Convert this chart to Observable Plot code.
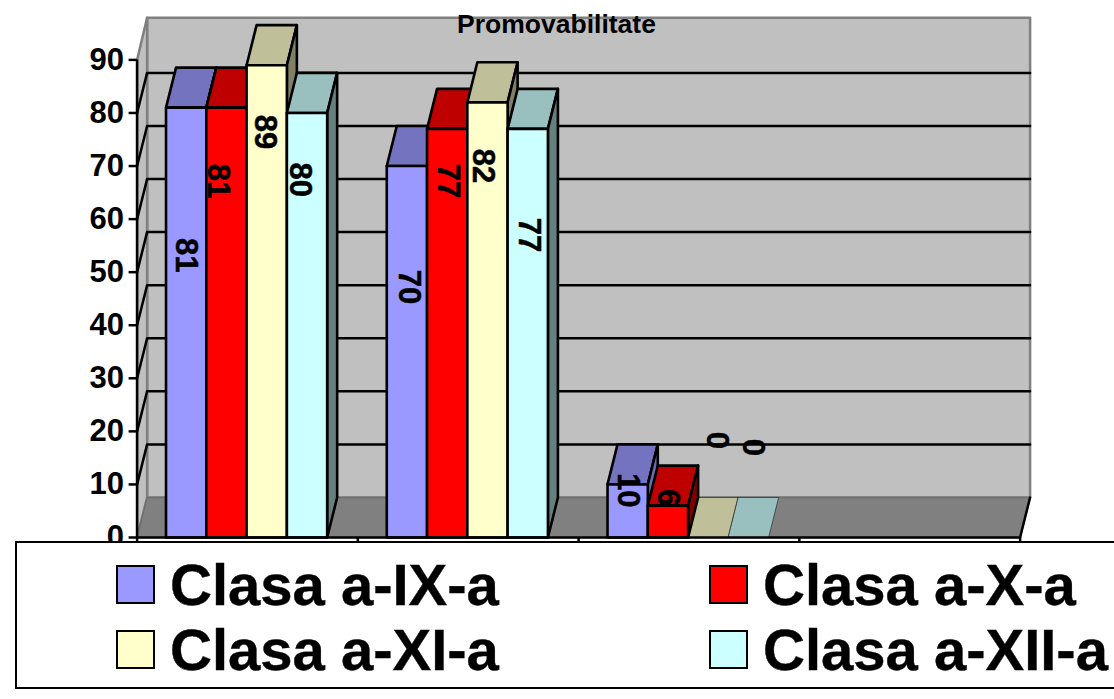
<!DOCTYPE html>
<html><head><meta charset="utf-8">
<script src="https://cdn.jsdelivr.net/npm/d3@7"></script>
<script src="https://cdn.jsdelivr.net/npm/@observablehq/plot@0.6"></script>
<style>
html,body{margin:0;padding:0;background:#fff;font-family:"Liberation Sans",Arial,sans-serif;overflow:hidden}
#legend{position:absolute;left:15px;top:541px;width:1110px;height:144px;border:2.5px solid #000;background:#fff;font-weight:bold;box-sizing:content-box}
#legend .sw{position:absolute;width:35px;height:35px;border:2.5px solid #000}
#legend .tx{position:absolute;font-size:58px;line-height:60px;color:#000;white-space:nowrap;-webkit-text-stroke:0.4px #000}
</style></head><body>
<div id="chart"></div>
<div id="legend"></div>
<script>
const seriesNames = ["Clasa a-IX-a","Clasa a-X-a","Clasa a-XI-a","Clasa a-XII-a"];
const clasaIX  = [81,70,10];
const clasaX   = [81,77,6];
const clasaXI  = [89,82,0];
const clasaXII = [80,77,0];
const frontColors = ["#9999FF","#FF0000","#FFFFCC","#CCFFFF"];
const topColors   = ["#7373BF","#BF0000","#BFBF99","#99BFBF"];
const sideColors  = ["#6B6BB0","#800000","#808066","#668080"];
const yTicks = [0,10,20,30,40,50,60,70,80,90];
const categorySlots = [0,1,2,3,4];
// Label anchor points, read in axis units
const labelSpots = [
  [[0.222,53.2],[1.232,47.2],[2.224,8.9]],
  [[0.367,67.2],[1.409,67.2],[2.405,7.5]],
  [[0.58,76.4],[1.567,70],[2.627,18.3]],
  [[0.738,67.4],[1.776,57],[2.79,17]]
];
const values = [clasaIX,clasaX,clasaXI,clasaXII];

const depthX = 10/220.75, depthY = 40/5.3;
const gap = 0.131, barW = 0.1825;
const topY = 90 + depthY + 0.4;
const poly = (rows,id,fill,pts) => pts.forEach(([x,y]) => rows.push({id,fill,x,y}));

const wall = [], floor = [], outlined = [], bare = [];
poly(wall,"back","#C0C0C0",[[depthX,depthY],[4+depthX,depthY],[4+depthX,topY],[depthX,topY]]);
poly(wall,"left","#C0C0C0",[[0,0],[depthX,depthY],[depthX,topY],[0,90]]);
poly(floor,"floor","#808080",[[0,0],[4,0],[4+depthX,depthY],[depthX,depthY]]);

values.forEach((vals,s) => vals.forEach((v,g) => {
  const x0 = g+gap+s*barW, x1 = x0+barW, k = `${g}-${s}`;
  const target = v>0 ? outlined : bare;
  poly(target,k+"t",topColors[s],[[x0,v],[x1,v],[x1+depthX,v+depthY],[x0+depthX,v+depthY]]);
  if (v>0){
    poly(target,k+"s",sideColors[s],[[x1,0],[x1+depthX,depthY],[x1+depthX,v+depthY],[x1,v]]);
    poly(target,k+"f",frontColors[s],[[x0,0],[x1,0],[x1,v],[x0,v]]);
  }
}));
const labels = values.flatMap((vals,s)=>vals.map((v,g)=>({v,x:labelSpots[s][g][0],y:labelSpots[s][g][1]})));
const gridRows = yTicks.slice(1,-1).flatMap(t=>[
  {id:t,x:0,y:t},{id:t,x:depthX,y:t+depthY},{id:t,x:4+depthX,y:t+depthY}
]);
const closed = {x:"x",y:"y",z:"id",fill:"fill",curve:"linear-closed"};

const plot = Plot.plot({
  width:1114,height:541,
  marginTop:0,marginRight:0,marginBottom:0,marginLeft:0,
  style:{overflow:"hidden",background:"#fff",fontFamily:"'Liberation Sans',Arial,sans-serif"},
  x:{domain:[0,4],range:[136.6,1019.6],axis:null},
  y:{domain:[0,90],range:[537,59.4],axis:null},
  color:{type:"identity"},
  marks:[
    Plot.line(wall,{...closed,stroke:"#808080",strokeWidth:2.5}),
    Plot.line(gridRows,{x:"x",y:"y",z:"id",stroke:"#000",strokeWidth:2.5}),
    Plot.line(floor,{...closed,stroke:"#6e6e6e",strokeWidth:1.5}),
    Plot.line([{x:4,y:0},{x:4+depthX,y:depthY}],{x:"x",y:"y",stroke:"#000",strokeWidth:2.5}),
    Plot.line(bare,{...closed,stroke:"#333",strokeWidth:0.8}),
    Plot.line(outlined,{...closed,stroke:"#000",strokeWidth:2.6,strokeLinejoin:"round"}),
    Plot.ruleX([0],{y1:0,y2:90,stroke:"#000",strokeWidth:2.5}),
    Plot.ruleY([0],{x1:0,x2:4,stroke:"#000",strokeWidth:2.5}),
    Plot.axisY({ticks:yTicks,anchor:"left",x:0,label:null,tickSize:8,tickPadding:5,fontSize:31,fontWeight:"bold",stroke:"#000",strokeWidth:2.5,fill:"#000",tickFormat:d3.format("d")}),
    Plot.axisX({ticks:categorySlots,anchor:"bottom",y:0,label:null,tickSize:6,tickFormat:()=>"",stroke:"#000",strokeWidth:2.5}),
    Plot.text(labels,{x:"x",y:"y",text:"v",rotate:90,fontSize:31,fontWeight:"bold",fill:"#000",stroke:"#000",strokeWidth:0.5}),
    Plot.text(["Promovabilitate"],{x:1.9,y:96.6,text:d=>d,fontSize:26.5,fontWeight:"bold",fill:"#000"})
  ]
});
document.getElementById("chart").appendChild(plot);

const legend = d3.select("#legend");
seriesNames.forEach((n,i)=>{
  const col=i%2,row=i>>1;
  const lx=[99,692][col], ly=[22,87][row];
  legend.append("div").attr("class","sw").style("left",lx+"px").style("top",ly+"px").style("background",frontColors[i]);
  legend.append("div").attr("class","tx").style("left",(lx+54)+"px").style("top",(ly-10)+"px").text(n);
});
</script>
</body></html>
